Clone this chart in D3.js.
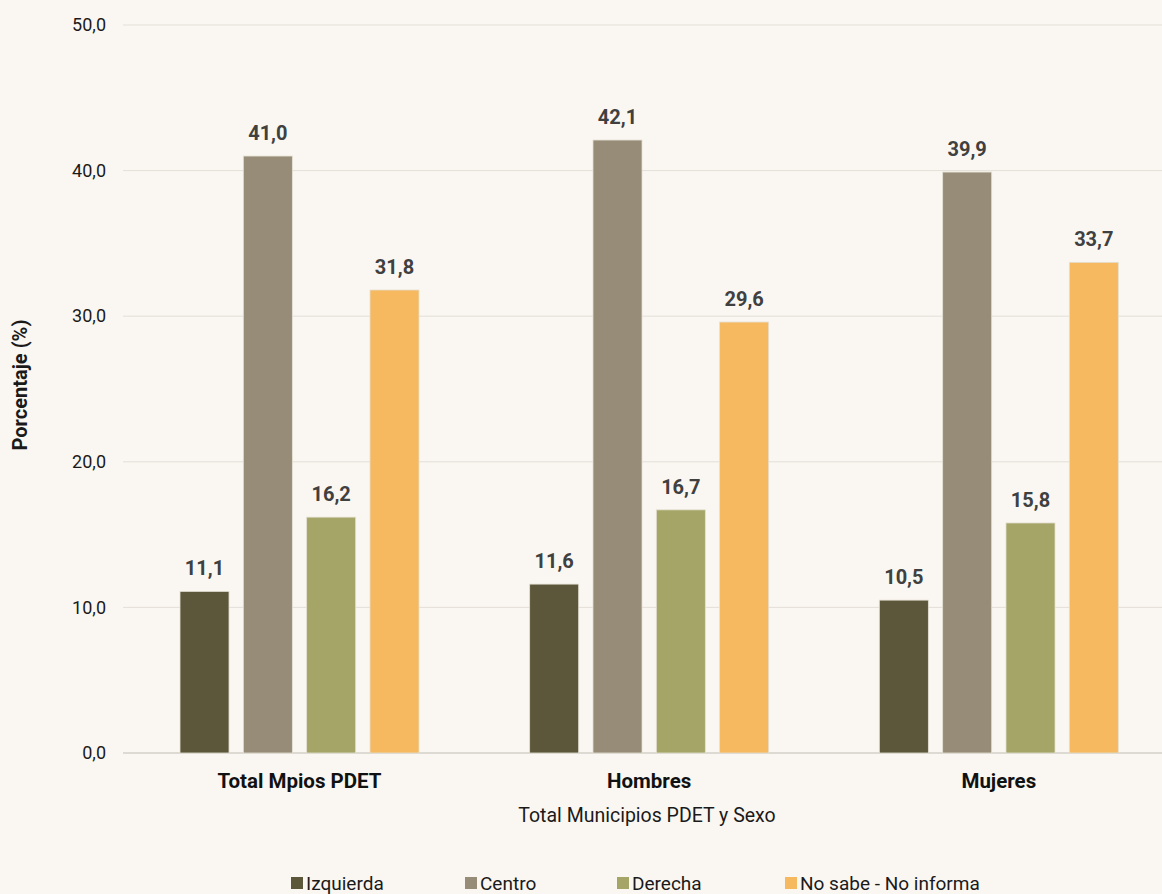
<!DOCTYPE html>
<html>
<head>
<meta charset="utf-8">
<script src="https://cdn.jsdelivr.net/npm/d3@7"></script>
<style>
  body { margin: 0; background: #faf7f2; }
  svg { display: block; font-family: "Roboto", sans-serif; }
</style>
</head>
<body>
<svg id="chart"></svg>
<script>
// categories and series
const groups = ["Total Mpios PDET", "Hombres", "Mujeres"];
const series = ["Izquierda", "Centro", "Derecha", "No sabe - No informa"];
const colors = ["#5c573b", "#968c77", "#a4a566", "#f6b95f"];
const izquierda = [11.1, 11.6, 10.5];
const centro = [41.0, 42.1, 39.9];
const derecha = [16.2, 16.7, 15.8];
const noSabe = [31.8, 29.6, 33.7];
const yTicks = [0, 10, 20, 30, 40, 50];

const values = [izquierda, centro, derecha, noSabe];

const width = 1162, height = 894;
const margin = {top: 25, right: -10, bottom: 141, left: 123};

const svg = d3.select('#chart')
    .attr('width', width)
    .attr('height', height);

svg.append('rect')
    .attr('width', width)
    .attr('height', height)
    .attr('fill', '#faf7f2');

const x0 = d3.scaleBand()
    .domain(groups)
    .range([margin.left, width - margin.right])
    .padding(0);

const x1 = d3.scaleBand()
    .domain(series)
    .range([57, 296])
    .paddingInner(0.226)
    .paddingOuter(0);

const y = d3.scaleLinear()
    .domain([0, 50])
    .range([height - margin.bottom, margin.top]);

// gridlines
svg.append('g')
    .selectAll('line')
    .data(yTicks)
    .join('line')
    .attr('x1', margin.left)
    .attr('x2', width)
    .attr('y1', d => y(d))
    .attr('y2', d => y(d))
    .attr('stroke', d => d === 0 ? '#d3cfc8' : '#e3dfd8')
    .attr('stroke-width', d => d === 0 ? 1.5 : 1);

// y axis labels
const yAxis = d3.axisLeft(y)
    .tickValues(yTicks)
    .tickSize(0)
    .tickPadding(0)
    .tickFormat(d => d3.format('.1f')(d).replace('.', ','));

svg.append('g')
    .attr('transform', 'translate(106,0)')
    .call(yAxis)
    .call(g => g.select('.domain').remove())
    .call(g => g.selectAll('text')
        .attr('font-size', 18)
        .attr('fill', '#1a1a1a')
        .attr('font-family', '"Roboto", sans-serif'));

// bars
const bars = [];
groups.forEach((g, gi) => {
    series.forEach((s, si) => {
        bars.push({group: g, series: s, value: values[si][gi], color: colors[si]});
    });
});

const chart = svg.append('g');

chart.selectAll('rect')
    .data(bars)
    .join('rect')
    .attr('x', d => x0(d.group) + x1(d.series))
    .attr('y', d => y(d.value))
    .attr('width', x1.bandwidth())
    .attr('height', d => y(0) - y(d.value))
    .attr('fill', d => d.color)
    .attr('stroke', '#e4e0d4')
    .attr('stroke-width', 0.8);

chart.selectAll('text.val')
    .data(bars)
    .join('text')
    .attr('class', 'val')
    .attr('x', d => x0(d.group) + x1(d.series) + x1.bandwidth() / 2)
    .attr('y', d => y(d.value) - 16)
    .attr('text-anchor', 'middle')
    .attr('font-size', 20)
    .attr('font-weight', 'bold')
    .attr('fill', '#404040')
    .text(d => d3.format('.1f')(d.value).replace('.', ','));

// category labels
svg.append('g')
    .selectAll('text')
    .data(groups)
    .join('text')
    .attr('x', d => x0(d) + x1('Izquierda') + (x1('No sabe - No informa') + x1.bandwidth() - x1('Izquierda')) / 2)
    .attr('y', 788)
    .attr('text-anchor', 'middle')
    .attr('font-size', 20.5)
    .attr('font-weight', 'bold')
    .attr('fill', '#111')
    .text(d => d);

// axis titles
svg.append('text')
    .attr('x', 647)
    .attr('y', 822)
    .attr('text-anchor', 'middle')
    .attr('font-size', 19.5)
    .attr('fill', '#1a1a1a')
    .text('Total Municipios PDET y Sexo');

svg.append('text')
    .attr('transform', 'translate(27,385) rotate(-90)')
    .attr('text-anchor', 'middle')
    .attr('font-size', 20)
    .attr('font-weight', 'bold')
    .attr('fill', '#1a1a1a')
    .text('Porcentaje (%)');

// legend
const legendX = [291, 465, 617, 785];
const legend = svg.append('g')
    .selectAll('g')
    .data(series)
    .join('g')
    .attr('transform', (d, i) => `translate(${legendX[i]},877)`);

legend.append('rect')
    .attr('width', 12)
    .attr('height', 12)
    .attr('fill', (d, i) => colors[i]);

legend.append('text')
    .attr('x', 15)
    .attr('y', 13)
    .attr('font-size', 19)
    .attr('fill', '#1a1a1a')
    .text(d => d);
</script>
</body>
</html>
